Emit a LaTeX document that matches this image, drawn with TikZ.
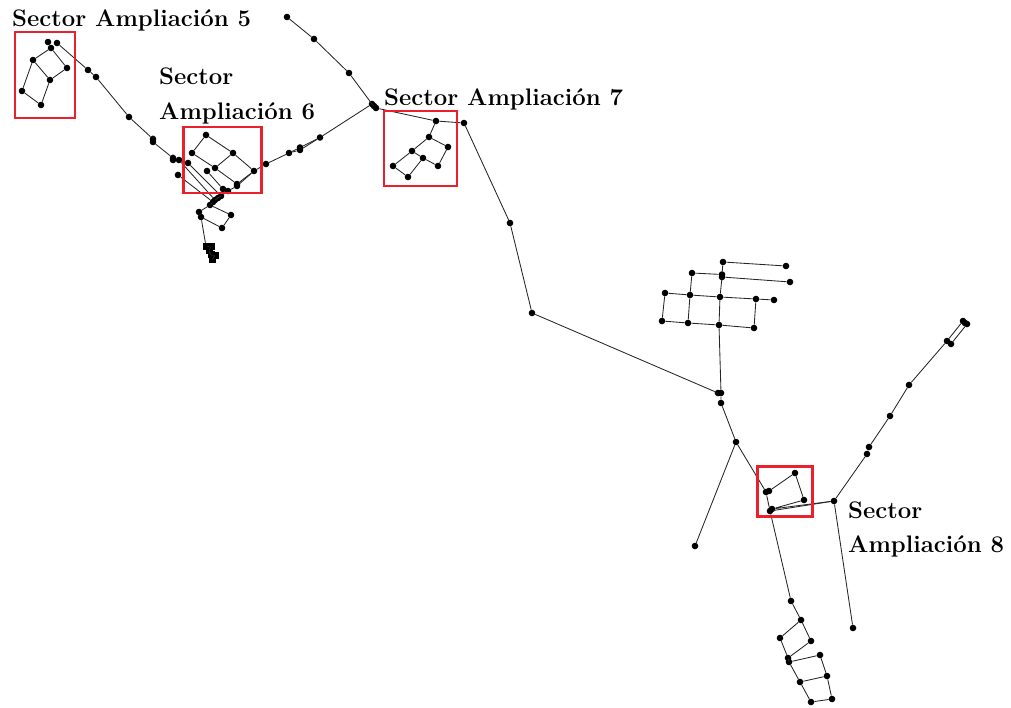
\documentclass[tikz,border=0pt]{standalone}
\definecolor{rojosector}{RGB}{236,32,44}
\tikzset{
	punto/.style={circle,fill=black,inner sep=0pt,minimum size=6.6pt},
	tramo/.style={line width=0.85pt,color=black!85},
	bloque/.style={rectangle,fill=black,inner sep=0pt,minimum width=7pt,minimum height=7pt},
	sector/.style={draw=rojosector,line width=2.8pt,inner sep=0pt},
	rotulo/.style={anchor=base west,inner sep=0pt,font=\fontsize{23.9}{28}\selectfont\bfseries}
}
\begin{document}
\begin{tikzpicture}[x=1pt,y=-1pt]
		\useasboundingbox (0,0) rectangle (1011,708);
		% sector 5
		\node[punto] (a1) at (48,42) {};
		\node[punto] (a2) at (57,43) {};
		\node[punto] (a3) at (51,48) {};
		\node[punto] (a4) at (33,60) {};
		\node[punto] (a5) at (67,68) {};
		\node[punto] (a6) at (50,80) {};
		\node[punto] (a7) at (22,91) {};
		\node[punto] (a8) at (41,105) {};
		\node[punto] (t1) at (88,70) {};
		\node[punto] (t2) at (96,77) {};
		\node[punto] (t3) at (129,117) {};
		\node[punto] (t4) at (153,139) {};
		\node[punto] (t5) at (153,142) {};
		\node[punto] (t6) at (173,158) {};
		\node[punto] (t7) at (173,160) {};
		\node[punto] (t8) at (179,160) {};
		% sector 6
		\node[punto] (b1) at (206,135) {};
		\node[punto] (b2) at (233,153) {};
		\node[punto] (b3) at (192,153) {};
		\node[punto] (b4) at (254,171) {};
		\node[punto] (b5) at (215,168) {};
		\node[punto] (b6) at (188,163) {};
		\node[punto] (b7) at (207,171) {};
		\node[punto] (b8) at (178,175) {};
		\node[punto] (b9) at (237,184) {};
		\node[punto] (b10) at (237,186) {};
		\node[punto] (b11) at (223,189) {};
		\node[punto] (b12) at (228,191) {};
		\node[punto] (c1) at (221,196) {};
		\node[punto] (c2) at (218,198) {};
		\node[punto] (c3) at (215,200) {};
		\node[punto] (c4) at (213,202) {};
		\node[punto] (c5) at (210,205) {};
		\node[punto] (c6) at (199,212) {};
		\node[punto] (c7) at (201,217) {};
		\node[punto] (c8) at (231,215) {};
		\node[punto] (c9) at (222,228) {};
		\node[bloque] (d1) at (206,246.5) {};
		\node[bloque] (d2) at (211,246.5) {};
		\node[bloque] (d3) at (209,251) {};
		\node[bloque] (d4) at (211,255) {};
		\node[bloque] (d5) at (215,255.5) {};
		\node[bloque] (d6) at (212,260) {};
		% tramo hacia sector 7
		\node[punto] (e1) at (266,164) {};
		\node[punto] (e2) at (289,153) {};
		\node[punto] (e3) at (300,147.5) {};
		\node[punto] (e4) at (300,150) {};
		\node[punto] (e5) at (320,137.5) {};
		\node[punto] (e6) at (372,104) {};
		\node[punto] (e7) at (374,106) {};
		\node[punto] (e8) at (376,108) {};
		\node[punto] (e9) at (349,73) {};
		\node[punto] (e10) at (314,39) {};
		\node[punto] (e11) at (287,17) {};
		% sector 7
		\node[punto] (f1) at (436,121) {};
		\node[punto] (f2) at (464,123) {};
		\node[punto] (f3) at (429,137) {};
		\node[punto] (f4) at (448,147) {};
		\node[punto] (f5) at (412,151) {};
		\node[punto] (f6) at (423,158) {};
		\node[punto] (f7) at (438,166) {};
		\node[punto] (f8) at (393,166) {};
		\node[punto] (f9) at (408,177) {};
		\node[punto] (g1) at (510,223) {};
		\node[punto] (g2) at (532,313) {};
		% malla central
		\node[punto] (h1) at (718,393) {};
		\node[punto] (h2) at (721,393) {};
		\node[punto] (h3) at (719,325) {};
		\node[punto] (h4) at (754,328) {};
		\node[punto] (h5) at (688,323) {};
		\node[punto] (h6) at (662,321) {};
		\node[punto] (h7) at (665,293) {};
		\node[punto] (h8) at (690,295) {};
		\node[punto] (h9) at (720,297) {};
		\node[punto] (h10) at (756,299) {};
		\node[punto] (h11) at (774,300) {};
		\node[punto] (h12) at (692,273) {};
		\node[punto] (h13) at (722,274.5) {};
		\node[punto] (h14) at (722,277) {};
		\node[punto] (h15) at (790,282) {};
		\node[punto] (h16) at (723,262) {};
		\node[punto] (h17) at (786,266) {};
		% sector 8
		\node[punto] (k1) at (721,403) {};
		\node[punto] (k2) at (736,442) {};
		\node[punto] (k3) at (695,546) {};
		\node[punto] (k4) at (769,491) {};
		\node[punto] (k5) at (766,492) {};
		\node[punto] (k6) at (795,473) {};
		\node[punto] (k7) at (804,500) {};
		\node[punto] (k8) at (772,509) {};
		\node[punto] (k9) at (770,511) {};
		\node[punto] (k10) at (834,501) {};
		\node[punto] (k11) at (853,628) {};
		\node[punto] (m1) at (867,454) {};
		\node[punto] (m2) at (869,447) {};
		\node[punto] (m3) at (890,416) {};
		\node[punto] (m4) at (909,385) {};
		\node[punto] (m5) at (947,341) {};
		\node[punto] (m6) at (951,344) {};
		\node[punto] (m7) at (963,321) {};
		\node[punto] (m8) at (965,323) {};
		\node[punto] (m9) at (967,324) {};
		% ramal inferior
		\node[punto] (n1) at (791,601) {};
		\node[punto] (n2) at (801,620) {};
		\node[punto] (n3) at (780,638) {};
		\node[punto] (n4) at (811,641) {};
		\node[punto] (n5) at (788,658) {};
		\node[punto] (n6) at (789,662) {};
		\node[punto] (n7) at (820,655) {};
		\node[punto] (n8) at (827,676) {};
		\node[punto] (n9) at (800,682) {};
		\node[punto] (n10) at (811,702) {};
		\node[punto] (n11) at (832,699) {};
		% tramos
		\draw[tramo] (a3) -- (a4) -- (a7) -- (a8) -- (a6) -- (a5) -- (a3);
		\draw[tramo] (a4) -- (a6);
		\draw[tramo] (a1) -- (a3);
		\draw[tramo] (a2) -- (t1) -- (t2) -- (t3) -- (t4) -- (t5) -- (t6) -- (t7) -- (t8);
		\draw[tramo] (t8) -- (c3);
		\draw[tramo] (b6) -- (c1);
		\draw[tramo] (b8) -- (c4);
		\draw[tramo] (b7) -- (b11);
		\draw[tramo] (b1) -- (b3) -- (b5) -- (b9) -- (b4) -- (b2) -- (b1);
		\draw[tramo] (b2) -- (b5);
		\draw[tramo] (b12) -- (b10) -- (b4) -- (e1) -- (e2) -- (e3) -- (e5) -- (e6);
		\draw[tramo] (e2) -- (e4) -- (e5);
		\draw[tramo] (c1) -- (b11);
		\draw[tramo] (c1) -- (b12);
		\draw[tramo] (c1) -- (c2) -- (c3) -- (c4) -- (c5) -- (c6);
		\draw[tramo] (c5) -- (c8) -- (c9) -- (c7) -- (d1);
		\draw[tramo] (c6) -- (c7);
		\draw[tramo] (d1) -- (d2) -- (d3) -- (d4) -- (d5) -- (d6);
		\draw[tramo] (e6) -- (e7) -- (e8) -- (f1) -- (f2) -- (g1) -- (g2) -- (h1) -- (h2);
		\draw[tramo] (e6) -- (e9) -- (e10) -- (e11);
		\draw[tramo] (f1) -- (f3) -- (f4) -- (f7) -- (f6) -- (f5) -- (f3);
		\draw[tramo] (f5) -- (f8) -- (f9) -- (f6);
		\draw[tramo] (h2) -- (h3) -- (h9) -- (h14) -- (h13) -- (h16) -- (h17);
		\draw[tramo] (h6) -- (h5) -- (h3) -- (h4) -- (h10) -- (h9) -- (h8) -- (h7) -- (h6);
		\draw[tramo] (h10) -- (h11);
		\draw[tramo] (h5) -- (h8) -- (h12) -- (h13);
		\draw[tramo] (h14) -- (h15);
		\draw[tramo] (h2) -- (k1) -- (k2) -- (k3);
		\draw[tramo] (k2) -- (k5) -- (k9) -- (n1) -- (n2) -- (n3) -- (n5) -- (n6) -- (n9) -- (n10) -- (n11) -- (n8) -- (n7) -- (n6);
		\draw[tramo] (n2) -- (n4) -- (n5);
		\draw[tramo] (n8) -- (n9);
		\draw[tramo] (k4) -- (k6) -- (k7) -- (k8) -- (k10) -- (k11);
		\draw[tramo] (k9) -- (k10);
		\draw[tramo] (k10) -- (m1) -- (m2) -- (m3) -- (m4) -- (m5) -- (m7);
		\draw[tramo] (m6) -- (m9);
		% recuadros
		\node[sector,minimum width=60pt,minimum height=86pt] (r5) at (45,75) {};
		\node[sector,minimum width=78pt,minimum height=66pt] (r6) at (222.5,160) {};
		\node[sector,minimum width=73pt,minimum height=75pt] (r7) at (420.5,148.5) {};
		\node[sector,minimum width=55pt,minimum height=50pt] (r8) at (785,491.5) {};
		% rotulos
		\node[rotulo] (l5) at (12,27) {Sector Ampliación 5};
		\node[rotulo] (l6a) at (159,85) {Sector};
		\node[rotulo] (l6b) at (159,120) {Ampliación 6};
		\node[rotulo] (l7) at (384,106) {Sector Ampliación 7};
		\node[rotulo] (l8a) at (848,518) {Sector};
		\node[rotulo] (l8b) at (848,552) {Ampliación 8};
	\end{tikzpicture}
\end{document}
